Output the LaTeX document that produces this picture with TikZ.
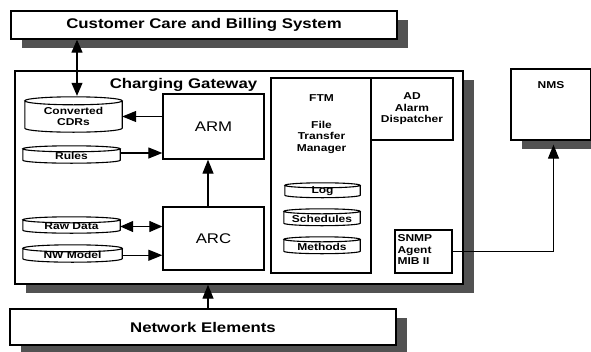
\documentclass[tikz,border=0pt]{standalone}
\usepackage{fontspec}
\usetikzlibrary{arrows.meta,calc,shadows}
\newfontfamily\lab[FakeStretch=1.2]{Liberation Sans}

% database drum: top ellipse centred on the node's north edge, rounded bottom on its south edge
\newcommand\dbcyl[2]{%
  \draw[line width=1.1pt] let \p1=(#1.north west), \p2=(#1.south east), \n1={(\x2-\x1)/2} in
    (\x1,\y1) -- (\x1,{\y2+#2}) arc[start angle=180,end angle=360,x radius=\n1,y radius=#2] -- (\x2,\y1)
    ({\x1+\n1},\y1) ellipse[x radius=\n1,y radius=#2];
}

\tikzset{
  box/.style={draw, line width=1.3pt, fill=white, inner sep=0pt, align=center},
  shadowed/.style={drop shadow={shadow xshift=11pt, shadow yshift=-9pt, fill=black!68, opacity=1}},
  big/.style={font=\lab\bfseries\fontsize{14}{16}\selectfont},
  small/.style={font=\lab\bfseries\fontsize{10}{11.5}\selectfont, align=center},
  mid/.style={font=\lab\fontsize{14}{16}\selectfont},
  db/.style={small, inner sep=0pt},
  tip/.style={},
  arr/.style={line width=1.2pt, -{Triangle[length=14pt,width=11pt]}},
  darr/.style={line width=1.2pt, {Triangle[length=13pt,width=11pt]}-{Triangle[length=13pt,width=11pt]}},
}

\begin{document}
\begin{tikzpicture}[x=1pt,y=-1pt]
\useasboundingbox (0,0) rectangle (591,351);

% outer systems
\node[box,shadowed,big,minimum width=386pt,minimum height=28pt] (ccbs) at (204,25) {Customer Care and Billing System};
\node[box,shadowed,minimum width=448pt,minimum height=213pt] (cg) at (239,177.5) {};
\node[big] (cgtitle) at (183.5,85) {Charging Gateway};
\node[box,shadowed,minimum width=80pt,minimum height=71pt] (nms) at (551,104.5) {};
\node[small] (nmslabel) at ([yshift=-17pt]nms.north) {NMS};
\node[box,shadowed,big,minimum width=386pt,minimum height=36pt] (ne) at (203,327) {Network Elements};

% processing blocks
\node[box,mid,minimum width=101pt,minimum height=65pt] (arm) at (213.5,126.5) {ARM};
\node[box,mid,minimum width=101pt,minimum height=63pt] (arc) at (213.5,238.5) {ARC};
\node[box,minimum width=100pt,minimum height=195pt] (ftm) at (321,175.5) {};
\node[small] (ftmtitle) at (321.5,98) {FTM};
\node[small] (ftmname) at (321.5,137) {File\\Transfer\\Manager};
\node[box,small,minimum width=82pt,minimum height=62pt] (ad) at (412,109) {AD\\Alarm\\Dispatcher};
\node[box,minimum width=57pt,minimum height=43pt] (snmp) at (423.5,251.5) {};
\node[small,align=left,anchor=north west,inner sep=0pt] (snmptext) at ([xshift=3pt,yshift=-5pt]snmp.north west) {SNMP\\Agent\\MIB II};

% data stores
\node[db,minimum width=97pt,minimum height=31pt] (cdr) at (73.5,116.5) {Converted\\CDRs};
\node[db,minimum width=97pt,minimum height=14pt] (rules) at (71.5,156) {Rules};
\node[db,minimum width=97pt,minimum height=13pt] (raw) at (71.5,226.5) {Raw Data};
\node[db,minimum width=99pt,minimum height=13.5pt] (nwm) at (72.5,255.25) {NW Model};
\node[db,minimum width=75pt,minimum height=12pt] (log) at (322.5,191.5) {Log};
\node[db,minimum width=76pt,minimum height=14pt] (sched) at (322,218.5) {Schedules};
\node[db,minimum width=76pt,minimum height=14pt] (meth) at (322,246.5) {Methods};
\dbcyl{cdr}{4pt}
\dbcyl{rules}{3pt}
\dbcyl{raw}{3pt}
\dbcyl{nwm}{3.5pt}
\dbcyl{log}{2.5pt}
\dbcyl{sched}{2.5pt}
\dbcyl{meth}{2.5pt}

% data flows
\draw[darr] ([xshift=3.5pt]cdr.north |- ccbs.south) -- ([xshift=3.5pt,yshift=5pt]cdr.north);
\draw[arr] (cdr -| arm.west) -- (cdr.east);
\draw[arr] ([yshift=3pt]rules.east) -- ([yshift=3pt]rules.east -| arm.west);
\draw[darr] (raw.east) -- (raw.east -| arc.west);
\draw[arr] (nwm.east) -- (nwm.east -| arc.west);
\draw[arr] ([xshift=-5.5pt]arc.north) -- ([xshift=-5.5pt]arm.south);
\draw[arr] ([xshift=-5.5pt]arc.south |- ne.north) -- ([xshift=-5.5pt]arc.south |- cg.south);
\draw[arr, shorten >=4pt] (snmp.east) -| ([xshift=2.5pt]nms.south);
\end{tikzpicture}
\end{document}
